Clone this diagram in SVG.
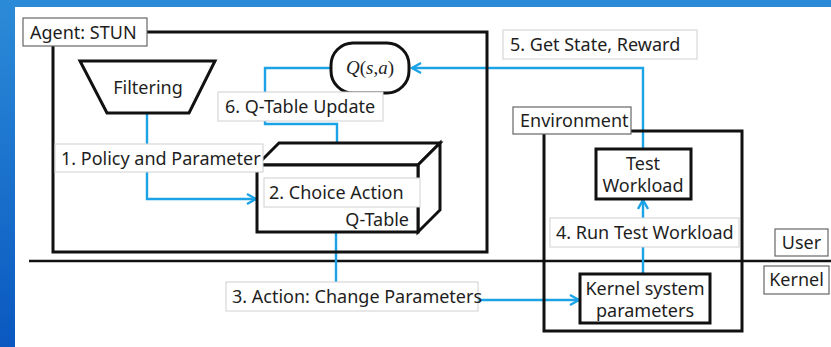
<svg xmlns="http://www.w3.org/2000/svg" width="831" height="347" viewBox="0 0 831 347">
  <defs>
    <linearGradient id="frame" x1="0" y1="0" x2="0" y2="1">
      <stop offset="0" stop-color="#2c8bd8"/>
      <stop offset="1" stop-color="#0a58c0"/>
    </linearGradient>
    <marker id="chev" viewBox="0 0 12 12" refX="10" refY="6" markerWidth="12" markerHeight="12" markerUnits="userSpaceOnUse" orient="auto">
      <path d="M1,1 L10,6 L1,11" fill="none" stroke="#1ca3e6" stroke-width="2.4"/>
    </marker>
    <style>
      .box { fill: none; stroke: #111; stroke-width: 3; }
      .fillbox { fill: #fff; stroke: #111; stroke-width: 3; }
      .tag { fill: #fff; stroke: #d0d0d0; stroke-width: 1; }
      .tagk { fill: #fff; stroke: #666; stroke-width: 1.2; }
      .t { font-family: "Noto Sans", "Noto Sans CJK KR", sans-serif; font-size: 18px; fill: #1e1e1e; }
      .mid { text-anchor: middle; }
      .wire { fill: none; stroke: #1ca3e6; stroke-width: 2.4; }
      .arrow { marker-end: url(#chev); }
      .math { font-family: "Liberation Serif", serif; font-size: 19px; fill: #1e1e1e; }
    </style>
  </defs>

  <!-- page frame -->
  <rect x="0" y="0" width="831" height="347" fill="url(#frame)"/>
  <rect x="15" y="7" width="816" height="340" fill="#fff"/>

  <!-- user / kernel boundary -->
  <line x1="29" y1="261" x2="831" y2="261" stroke="#111" stroke-width="2.5"/>

  <!-- connectors -->
  <g id="connectors">
    <polyline class="wire arrow" points="643,149 643,68 412,68"/>
    <polyline class="wire arrow" points="330,68 265,68 265,124 337,124 337,156"/>
    <polyline class="wire arrow" points="147,113 147,199 256,199"/>
    <line class="wire" x1="336" y1="232" x2="336" y2="284"/>
    <polyline class="wire arrow" points="478,300 579,300"/>
    <polyline class="wire arrow" points="643,274 643,200"/>
  </g>

  <!-- agent container -->
  <g id="agent">
    <rect class="box" x="53" y="32" width="434" height="220"/>
    <rect class="tagk" x="23" y="18" width="124" height="28"/>
    <text class="t" x="30" y="39">Agent: STUN</text>
  </g>

  <g id="filtering">
    <polygon class="fillbox" points="80,61 215,61 189,113 107,113"/>
    <text class="t mid" x="148" y="94">Filtering</text>
  </g>

  <g id="qvalue">
    <rect class="fillbox" x="331" y="43" width="78" height="50" rx="22" ry="22"/>
    <text class="math" x="370" y="74" text-anchor="middle"><tspan font-style="italic">Q</tspan>(<tspan font-style="italic">s</tspan>,<tspan font-style="italic">a</tspan>)</text>
  </g>

  <g id="qtable">
    <polygon class="fillbox" points="257,165 279,143 440,143 418,165"/>
    <polygon class="fillbox" points="418,165 440,143 440,210 418,232"/>
    <rect class="fillbox" x="257" y="165" width="161" height="67"/>
    <rect class="tag" x="264" y="178" width="156" height="29" stroke="#e0e0e0"/>
    <text class="t" x="269" y="199">2. Choice Action</text>
    <text class="t" x="409" y="226" text-anchor="end">Q-Table</text>
  </g>

  <g id="environment">
    <rect class="box" x="544" y="131" width="198" height="200"/>
    <rect class="tagk" x="513" y="107" width="118" height="27"/>
    <text class="t" x="520" y="127">Environment</text>
  </g>

  <g id="workload">
    <rect class="fillbox" x="596" y="149" width="95" height="50"/>
    <text class="t mid" x="643" y="170">Test</text>
    <text class="t mid" x="643" y="192">Workload</text>
  </g>

  <g id="kernelparams">
    <rect class="fillbox" x="580" y="274" width="130" height="49"/>
    <text class="t mid" x="645" y="295">Kernel system</text>
    <text class="t mid" x="645" y="317">parameters</text>
  </g>

  <!-- step labels -->
  <g id="step1">
    <rect class="tag" x="55" y="144" width="208" height="28"/>
    <text class="t" x="61" y="165">1. Policy and Parameter</text>
  </g>
  <g id="step3">
    <rect class="tag" x="226" y="282" width="252" height="29"/>
    <text class="t" x="232" y="303">3. Action: Change Parameters</text>
  </g>
  <g id="step4">
    <rect class="tag" x="550" y="218" width="189" height="29"/>
    <text class="t" x="556" y="239">4. Run Test Workload</text>
  </g>
  <g id="step5">
    <rect class="tag" x="503" y="30" width="194" height="29"/>
    <text class="t" x="510" y="51">5. Get State, Reward</text>
  </g>
  <g id="step6">
    <rect class="tag" x="218" y="92" width="165" height="29"/>
    <text class="t" x="225" y="113">6. Q-Table Update</text>
  </g>

  <g id="user">
    <rect class="tagk" x="775" y="229" width="53" height="27"/>
    <text class="t mid" x="801.5" y="249">User</text>
  </g>
  <g id="kernel">
    <rect class="tagk" x="764" y="266" width="65" height="28"/>
    <text class="t mid" x="796.5" y="286">Kernel</text>
  </g>
</svg>
